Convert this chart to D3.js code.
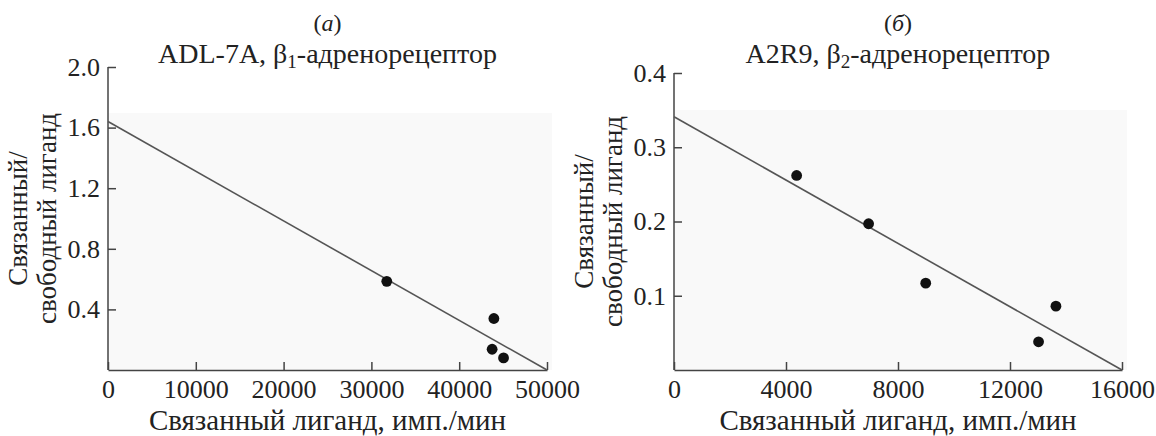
<!DOCTYPE html>
<html lang="ru">
<head>
  <meta charset="UTF-8">
  <title>Scatchard plots</title>
  <style>
    body { margin: 0; background: #fff; }
    svg text { font-family: "Liberation Serif", "Times New Roman", serif; fill: #222; }
    .axis path, .axis line { stroke: #444; stroke-width: 1.5px; }
  </style>
</head>
<body>
  <div id="chart"></div>

  <script src="https://d3js.org/d3.v7.min.js"></script>
  <script>
    // данные панели (а): ADL-7A, β1
    const aBound = [31750, 43950, 43750, 45050];
    const aRatio = [0.585, 0.34, 0.137, 0.08];
    const aFit = { intercept: 1.64, xIntercept: 50000 };
    const aXTicks = [0, 10000, 20000, 30000, 40000, 50000];
    const aYTicks = [0.4, 0.8, 1.2, 1.6, 2.0];

    // данные панели (б): A2R9, β2
    const bBound = [4380, 6950, 8990, 13020, 13640];
    const bRatio = [0.262, 0.197, 0.117, 0.038, 0.086];
    const bFit = { intercept: 0.341, xIntercept: 16000 };
    const bXTicks = [0, 4000, 8000, 12000, 16000];
    const bYTicks = [0.1, 0.2, 0.3, 0.4];

    const width = 1156, height = 436;
    const svg = d3.select("#chart").append("svg")
      .attr("width", width).attr("height", height);

    function drawPanel(p) {
      const x = d3.scaleLinear().domain(p.xDomain).range([p.left, p.right]);
      const y = d3.scaleLinear().domain(p.yDomain).range([p.bottom, p.top]);
      const g = svg.append("g");

      // бледный фон скана
      g.append("rect")
        .attr("x", p.left).attr("y", p.bgTop)
        .attr("width", p.right - p.left + 5).attr("height", p.bottom - p.bgTop)
        .attr("fill", "#f9f9f9");

      const xAxis = g.append("g").attr("class", "axis")
        .attr("transform", `translate(0,${p.bottom})`)
        .call(d3.axisBottom(x).tickValues(p.xTicks).tickFormat(d3.format("d"))
          .tickSizeInner(-8).tickSizeOuter(0).tickPadding(10));
      xAxis.selectAll("text").attr("font-size", 26);

      const yAxis = g.append("g").attr("class", "axis")
        .attr("transform", `translate(${p.left},0)`)
        .call(d3.axisLeft(y).tickValues(p.yTicks).tickFormat(d3.format(".1f"))
          .tickSizeInner(-8).tickSizeOuter(0).tickPadding(8));
      yAxis.selectAll("text").attr("font-size", 26);
      yAxis.select(".domain").attr("d", `M0,${y(p.yDomain[1])}V${p.bottom}`);

      // линия регрессии
      g.append("line")
        .attr("x1", x(0)).attr("y1", y(p.fit.intercept))
        .attr("x2", x(p.fit.xIntercept)).attr("y2", y(0))
        .attr("stroke", "#555").attr("stroke-width", 1.6);

      g.selectAll("circle").data(p.xs.map((v, i) => [v, p.ys[i]]))
        .enter().append("circle")
        .attr("cx", d => x(d[0])).attr("cy", d => y(d[1]))
        .attr("r", 5.4).attr("fill", "#111");

      const cx = (p.left + p.right) / 2;
      const letter = g.append("text").attr("x", cx).attr("y", 31)
        .attr("text-anchor", "middle").attr("font-size", 24);
      letter.append("tspan").text("(");
      letter.append("tspan").attr("font-style", "italic").text(p.letter);
      letter.append("tspan").text(")");

      const title = g.append("text").attr("x", cx).attr("y", 63)
        .attr("text-anchor", "middle").attr("font-size", 28);
      title.append("tspan").text(p.name + ", β");
      title.append("tspan").attr("font-size", 19).attr("dy", 5).text(p.sub);
      title.append("tspan").attr("dy", -5).text("-адренорецептор");

      g.append("text").attr("x", cx).attr("y", 430)
        .attr("text-anchor", "middle").attr("font-size", 29)
        .text("Связанный лиганд, имп./мин");

      const ym = (p.top + p.bottom) / 2;
      const yl = g.append("text").attr("text-anchor", "middle").attr("font-size", 27)
        .attr("transform", `translate(${p.left - 81},${ym}) rotate(-90)`);
      yl.append("tspan").attr("x", 0).attr("y", 0).text("Связанный/");
      yl.append("tspan").attr("x", 0).attr("y", 29).text("свободный лиганд");
    }

    drawPanel({
      xs: aBound, ys: aRatio, fit: aFit, xTicks: aXTicks, yTicks: aYTicks,
      xDomain: [0, 50000], yDomain: [0, 2.0],
      left: 108, right: 547, top: 67, bottom: 370, bgTop: 113,
      letter: "а", name: "ADL-7A", sub: "1"
    });

    drawPanel({
      xs: bBound, ys: bRatio, fit: bFit, xTicks: bXTicks, yTicks: bYTicks,
      xDomain: [0, 16000], yDomain: [0, 0.4],
      left: 674, right: 1122, top: 73, bottom: 370, bgTop: 110,
      letter: "б", name: "A2R9", sub: "2"
    });
  </script>
</body>
</html>
